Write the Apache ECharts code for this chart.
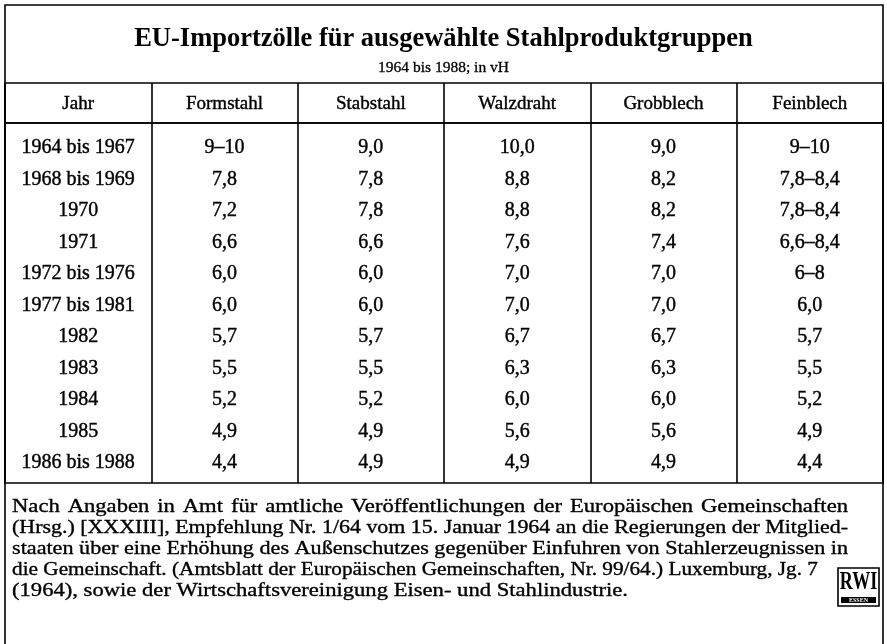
<!DOCTYPE html>
<html>
<head>
<meta charset="utf-8">
<script src="https://cdn.jsdelivr.net/npm/echarts@6/dist/echarts.min.js"></script>
<style>
html,body{margin:0;padding:0;background:#fff}
#main{width:887px;height:644px}
</style>
</head>
<body>
<div id="main"></div>
<script>
// Tabellendaten
var spalten = ['Jahr', 'Formstahl', 'Stabstahl', 'Walzdraht', 'Grobblech', 'Feinblech'];
var jahre = ['1964 bis 1967', '1968 bis 1969', '1970', '1971', '1972 bis 1976', '1977 bis 1981', '1982', '1983', '1984', '1985', '1986 bis 1988'];
var formstahl = ['9–10', '7,8', '7,2', '6,6', '6,0', '6,0', '5,7', '5,5', '5,2', '4,9', '4,4'];
var stabstahl = ['9,0', '7,8', '7,8', '6,6', '6,0', '6,0', '5,7', '5,5', '5,2', '4,9', '4,9'];
var walzdraht = ['10,0', '8,8', '8,8', '7,6', '7,0', '7,0', '6,7', '6,3', '6,0', '5,6', '4,9'];
var grobblech = ['9,0', '8,2', '8,2', '7,4', '7,0', '7,0', '6,7', '6,3', '6,0', '5,6', '4,9'];
var feinblech = ['9–10', '7,8–8,4', '7,8–8,4', '6,6–8,4', '6–8', '6,0', '5,7', '5,5', '5,2', '4,9', '4,4'];

var titel = 'EU-Importzölle für ausgewählte Stahlproduktgruppen';
var untertitel = '1964 bis 1988; in vH';
var fussnote = [
    'Nach Angaben in Amt für amtliche Veröffentlichungen der Europäischen Gemeinschaften',
    '(Hrsg.) [XXXIII], Empfehlung Nr. 1/64 vom 15. Januar 1964 an die Regierungen der Mitglied-',
    'staaten über eine Erhöhung des Außenschutzes gegenüber Einfuhren von Stahlerzeugnissen in',
    'die Gemeinschaft. (Amtsblatt der Europäischen Gemeinschaften, Nr. 99/64.) Luxemburg, Jg. 7',
    '(1964), sowie der Wirtschaftsvereinigung Eisen- und Stahlindustrie.'
];

var serif = '"Liberation Serif", "DejaVu Serif", serif';
var linie = {color: '#000', width: 1.6};

// Zellen aufbauen
var spaltenWerte = [jahre, formstahl, stabstahl, walzdraht, grobblech, feinblech];
var kopfDaten = spalten.map(function (s, i) { return [i, 0, s]; });
var zellDaten = [];
spaltenWerte.forEach(function (arr, c) {
    arr.forEach(function (v, r) { zellDaten.push([c, r, v]); });
});

// Fußnote im Blocksatz (leicht breit laufende Schrift wie im Druck)
var ctx = document.createElement('canvas').getContext('2d');
var fnFont = '19.5px ' + serif;
var fnScale = 1.16;
ctx.font = fnFont;
var fnElemente = [];
var fnRechts = [848, 848, 848, 818, 0];
function fnText(w, x, y, sx) {
    return {type: 'text', x: x, y: y, scaleX: sx,
        style: {text: w, font: fnFont, fill: '#000', verticalAlign: 'middle', stroke: '#000', lineWidth: 0.35}};
}
var leer = ctx.measureText(' ').width;
fussnote.forEach(function (zeile, i) {
    var y = 507 + i * 21;
    if (!fnRechts[i]) {
        fnElemente.push(fnText(zeile, 12, y, fnScale));
        return;
    }
    var woerter = zeile.split(' ');
    var roh = woerter.map(function (w) { return ctx.measureText(w).width; });
    var rohSumme = roh.reduce(function (a, b) { return a + b; }, 0);
    var ziel = fnRechts[i] - 12;
    // Zeile schmaler setzen, falls sie mit normalen Wortabständen nicht passt
    var sx = Math.min(fnScale, ziel / (rohSumme + leer * (woerter.length - 1)));
    var luecke = (ziel - rohSumme * sx) / (woerter.length - 1);
    var x = 12;
    woerter.forEach(function (w, k) {
        fnElemente.push(fnText(w, x, y, sx));
        x += roh[k] * sx + luecke;
    });
});

var zellLabel = {
    show: true, position: 'inside', formatter: function (p) { return p.value[2]; },
    fontFamily: serif, color: '#000', opacity: 1, textBorderColor: '#000', textBorderWidth: 0.4
};

var myChart = echarts.init(document.getElementById('main'));

var option = {
    backgroundColor: '#fff',
    animation: false,
    title: [{
        text: titel, left: 'center', top: 21,
        textStyle: {fontFamily: serif, fontSize: 26.5, fontWeight: 'bold', color: '#000'}
    }, {
        text: untertitel, left: 'center', top: 55,
        textStyle: {fontFamily: serif, fontSize: 15.5, fontWeight: 'normal', color: '#000',
            textBorderColor: '#000', textBorderWidth: 0.3}
    }],
    grid: [
        {left: 5, right: 4, top: 83, height: 40, show: true, borderColor: '#000', borderWidth: 1.6},
        {left: 5, right: 4, top: 123, height: 360, show: true, borderColor: '#000', borderWidth: 1.6}
    ],
    xAxis: [0, 1].map(function (g) {
        return {
            type: 'category', gridIndex: g, data: spalten,
            axisLine: {show: false}, axisTick: {show: false}, axisLabel: {show: false},
            splitLine: {show: true, interval: 0, lineStyle: linie}
        };
    }),
    yAxis: [
        {type: 'category', gridIndex: 0, data: ['kopf'], show: false},
        {type: 'value', gridIndex: 1, min: -0.8, max: 10.63, inverse: true, show: false}
    ],
    series: [{
        type: 'scatter', xAxisIndex: 0, yAxisIndex: 0, data: kopfDaten,
        symbolSize: 1, itemStyle: {color: 'transparent', opacity: 1}, silent: true,
        label: Object.assign({}, zellLabel, {fontSize: 19, offset: [0, 1]})
    }, {
        type: 'scatter', xAxisIndex: 1, yAxisIndex: 1, data: zellDaten,
        symbolSize: 1, itemStyle: {color: 'transparent', opacity: 1}, silent: true,
        label: Object.assign({}, zellLabel, {fontSize: 20})
    }],
    graphic: [
        {type: 'rect', shape: {x: 5, y: 5, width: 878, height: 700}, style: {fill: 'none', stroke: '#000', lineWidth: 1.6}},
        {type: 'rect', shape: {x: 838, y: 568, width: 41, height: 38}, style: {fill: '#fff', stroke: '#000', lineWidth: 1.6}},
        {type: 'text', x: 858.5, y: 583, scaleX: 0.72,
            style: {text: 'RWI', font: 'bold 25px ' + serif, fill: '#000', align: 'center', verticalAlign: 'middle'}},
        {type: 'rect', shape: {x: 841, y: 597, width: 35, height: 6}, style: {fill: '#000'}},
        {type: 'text', x: 858.5, y: 600,
            style: {text: 'ESSEN', font: 'bold 6px ' + serif, fill: '#fff', align: 'center', verticalAlign: 'middle'}}
    ].concat(fnElemente)
};

myChart.setOption(option);
</script>
</body>
</html>
